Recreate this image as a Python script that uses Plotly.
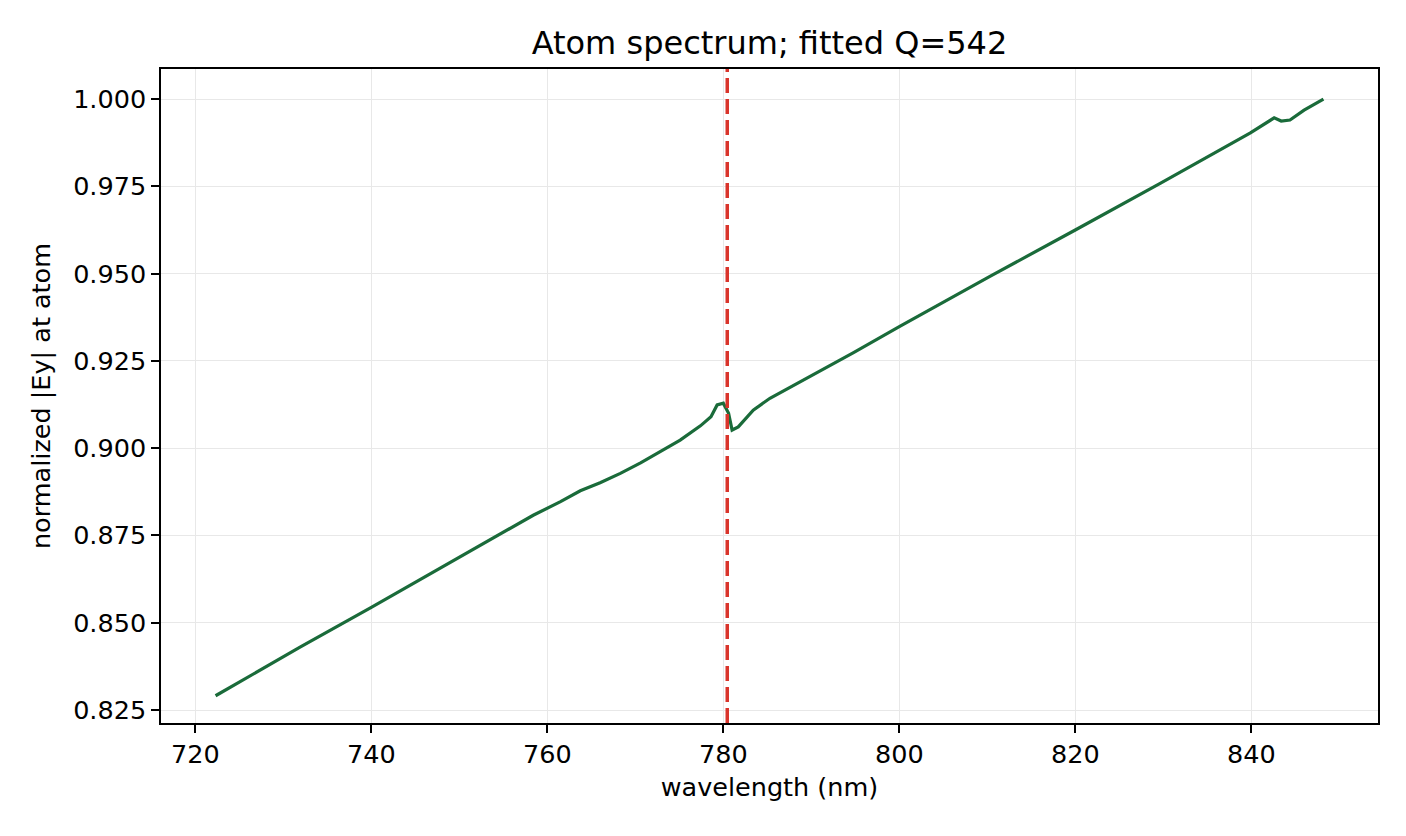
import plotly.graph_objects as go

# spectrum
wavelength = [722.3, 731.9, 740.0, 749.0, 758.4, 761.5, 763.75, 766.0, 768.3, 770.6,
              772.8, 775.1, 777.4, 778.6, 779.3, 780.0, 780.6, 781.0, 781.7, 783.4,
              785.3, 787.2, 791.0, 794.8, 800.0, 810.3, 820.0, 829.7, 839.9, 842.0,
              842.6, 843.4, 844.4, 846.0, 848.2]
ey_norm = [0.8291, 0.8430, 0.8544, 0.8673, 0.8808, 0.8847, 0.8878, 0.8901, 0.8928, 0.8958,
           0.8990, 0.9023, 0.9064, 0.9090, 0.9124, 0.9129, 0.9100, 0.9052, 0.9061, 0.9109,
           0.9143, 0.9169, 0.9222, 0.9274, 0.9348, 0.9492, 0.9625, 0.9759, 0.9903, 0.9935,
           0.9946, 0.9937, 0.9940, 0.9968, 1.0000]
atom_line = 780.45

FONT = "DejaVu Sans"

fig = go.Figure()
fig.add_trace(go.Scatter(x=wavelength, y=ey_norm, mode="lines",
                         line=dict(color="#1a6b3a", width=3.2), showlegend=False))
fig.add_vline(x=atom_line, line=dict(color="#d9342b", width=3.5, dash="15px,6px"))

axis_common = dict(
    showline=True, linecolor="black", linewidth=1.5, mirror=True,
    ticks="outside", ticklen=8, tickwidth=1.5, tickcolor="black",
    showgrid=True, gridcolor="#e8e8e8", gridwidth=1.2, zeroline=False,
    tickfont=dict(family=FONT, size=25.5, color="black"),
)

# page body adds an 8px offset, so margins are shifted to compensate
fig.update_layout(
    width=1406, height=836,
    paper_bgcolor="white", plot_bgcolor="white",
    margin=dict(l=153, r=36, t=61, b=121),
    title=dict(text="Atom spectrum; fitted Q=542", x=0.5, xref="paper", xanchor="center",
               y=0.958, yref="container", yanchor="middle",
               font=dict(family=FONT, size=32, color="black")),
    xaxis=dict(range=[716.1, 854.4], tickvals=[720, 740, 760, 780, 800, 820, 840],
               title=dict(text="wavelength (nm)", standoff=10,
                          font=dict(family=FONT, size=25.5, color="black")),
               **axis_common),
    yaxis=dict(range=[0.8213, 1.0086],
               tickvals=[0.825, 0.85, 0.875, 0.9, 0.925, 0.95, 0.975, 1.0],
               tickformat=".3f",
               title=dict(text="normalized |Ey| at atom", standoff=15,
                          font=dict(family=FONT, size=25.5, color="black")),
               **axis_common),
)

fig.write_html("out.html")
